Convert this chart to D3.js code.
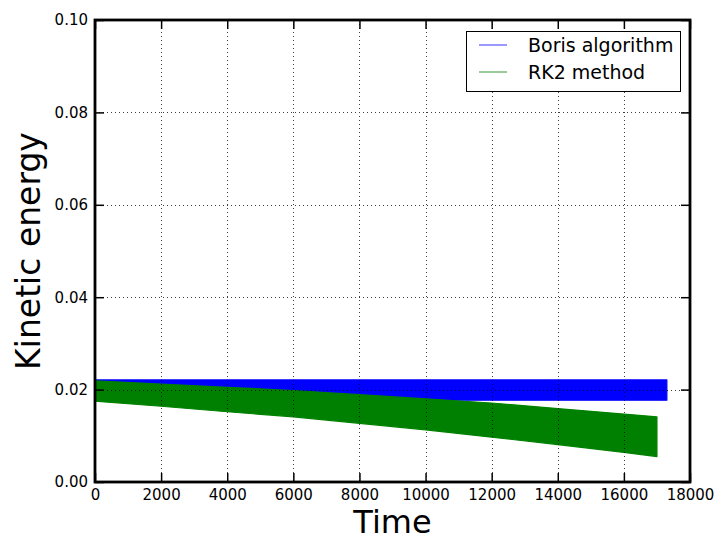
<!DOCTYPE html>
<html>
<head>
<meta charset="utf-8">
<script src="https://cdn.jsdelivr.net/npm/d3@7"></script>
<style>
  html, body { margin: 0; padding: 0; background: #fff; }
  svg { display: block; font-family: "DejaVu Sans", sans-serif; }
</style>
</head>
<body>
<svg id="chart" width="715" height="542"></svg>
<script>
// ---- data ----
const xTicks = [0, 2000, 4000, 6000, 8000, 10000, 12000, 14000, 16000, 18000];
const yTicks = [0.00, 0.02, 0.04, 0.06, 0.08, 0.10];
const seriesNames = ["Boris algorithm", "RK2 method"];
const seriesColors = ["#0000ff", "#008000"];

// Envelope of the rapidly oscillating kinetic energy (appears as a band)
const borisTime  = [0, 4000, 8000, 12000, 16000, 17300];
const borisUpper = [0.0221, 0.0221, 0.0221, 0.0221, 0.0221, 0.0221];
const borisLower = [0.0177, 0.0177, 0.0177, 0.0177, 0.0177, 0.0177];

const rk2Time  = [0, 2000, 4000, 6000, 8000, 10000, 12000, 14000, 16000, 17000];
const rk2Upper = [0.0219, 0.0212, 0.0205, 0.0198, 0.0189, 0.0180, 0.0171, 0.0159, 0.0147, 0.0141];
const rk2Lower = [0.0175, 0.0164, 0.0152, 0.0141, 0.0127, 0.0113, 0.0097, 0.0081, 0.0064, 0.0055];

// ---- layout ----
const L = 95, R = 690, T = 20, B = 482;
const svg = d3.select("#chart");
const x = d3.scaleLinear().domain([0, 18000]).range([L, R]);
const y = d3.scaleLinear().domain([0, 0.10]).range([B, T]);

// ---- bands ----
function band(time, up, lo, color) {
  const pts = time.map((t, i) => ({t, u: up[i], l: lo[i]}));
  const area = d3.area().x(d => x(d.t)).y0(d => y(d.l)).y1(d => y(d.u));
  svg.append("path").datum(pts).attr("d", area)
    .attr("fill", color).attr("stroke", color).attr("stroke-width", 1.2)
    .attr("stroke-linejoin", "round");
}
band(borisTime, borisUpper, borisLower, seriesColors[0]);
band(rk2Time, rk2Upper, rk2Lower, seriesColors[1]);

// ---- grid (drawn above the data, classic style) ----
const grid = svg.append("g").attr("stroke", "#000").attr("stroke-width", 1)
  .attr("stroke-dasharray", "1,3").attr("opacity", 0.75);
xTicks.slice(1, -1).forEach(t => {
  grid.append("line").attr("x1", Math.round(x(t)) + 0.5).attr("x2", Math.round(x(t)) + 0.5)
    .attr("y1", T).attr("y2", B);
});
yTicks.slice(1, -1).forEach(v => {
  grid.append("line").attr("y1", Math.round(y(v)) + 0.5).attr("y2", Math.round(y(v)) + 0.5)
    .attr("x1", L).attr("x2", R);
});

// ---- axes with inward ticks on all four sides ----
const tickLen = 9;
const fmtX = d3.format("d");
const fmtY = d3.format(".2f");

const gBottom = svg.append("g").attr("transform", `translate(0,${B})`)
  .call(d3.axisBottom(x).tickValues(xTicks).tickFormat(fmtX).tickSizeInner(-tickLen).tickSizeOuter(0).tickPadding(8));
const gTop = svg.append("g").attr("transform", `translate(0,${T})`)
  .call(d3.axisTop(x).tickValues(xTicks).tickFormat("").tickSizeInner(-tickLen).tickSizeOuter(0));
const gLeft = svg.append("g").attr("transform", `translate(${L},0)`)
  .call(d3.axisLeft(y).tickValues(yTicks).tickFormat(fmtY).tickSizeInner(-tickLen).tickSizeOuter(0).tickPadding(7));
const gRight = svg.append("g").attr("transform", `translate(${R},0)`)
  .call(d3.axisRight(y).tickValues(yTicks).tickFormat("").tickSizeInner(-tickLen).tickSizeOuter(0));

[gBottom, gTop, gLeft, gRight].forEach(g => {
  g.select(".domain").remove();
  g.selectAll(".tick line").attr("stroke", "#000").attr("stroke-width", 1.5);
  g.selectAll(".tick text").attr("fill", "#000").attr("font-size", 15)
    .attr("font-family", "DejaVu Sans, sans-serif");
});
gBottom.selectAll(".tick text").attr("dy", "0.71em").attr("y", 7);

// frame
svg.append("rect").attr("x", L).attr("y", T).attr("width", R - L).attr("height", B - T)
  .attr("fill", "none").attr("stroke", "#000").attr("stroke-width", 2.8);

// ---- axis labels ----
svg.append("text").attr("x", (L + R) / 2).attr("y", 533).attr("text-anchor", "middle")
  .attr("font-size", 32).attr("fill", "#000").text("Time");
svg.append("text").attr("transform", `translate(40,${(T + B) / 2}) rotate(-90)`)
  .attr("text-anchor", "middle").attr("font-size", 33).attr("fill", "#000").text("Kinetic energy");

// ---- legend ----
const lg = svg.append("g");
lg.append("rect").attr("x", 466.5).attr("y", 31.5).attr("width", 214).attr("height", 60)
  .attr("fill", "#fff").attr("stroke", "#000").attr("stroke-width", 1);
seriesNames.forEach((name, i) => {
  const yy = 45 + i * 27;
  lg.append("line").attr("x1", 479).attr("x2", 507).attr("y1", yy).attr("y2", yy)
    .attr("stroke", seriesColors[i]).attr("stroke-width", 1).attr("opacity", 0.8);
  lg.append("text").attr("x", 528).attr("y", yy).attr("dy", "0.35em")
    .attr("font-size", 19).attr("fill", "#000").text(name);
});
</script>
</body>
</html>
